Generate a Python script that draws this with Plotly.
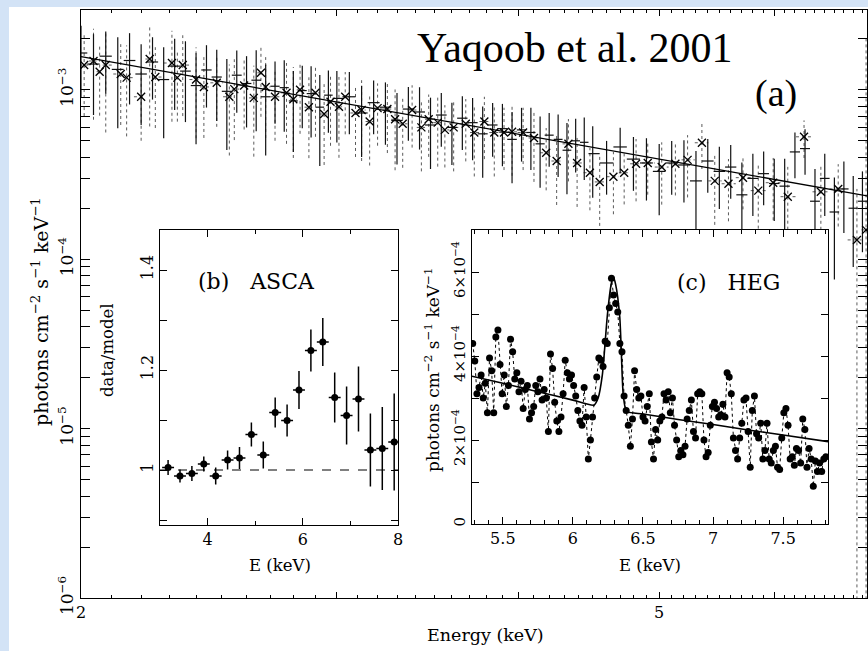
import numpy as np
import plotly.graph_objects as go

W, H = 868, 651

# ---------------- Panel (a): broad-band spectrum ----------------
heg_E = [2.00, 2.04, 2.08, 2.12, 2.16, 2.20, 2.24, 2.28, 2.32, 2.36, 2.40, 2.44, 2.48, 2.52, 2.56, 2.60,
         2.64, 2.68, 2.72, 2.76, 2.80, 2.84, 2.88, 2.92, 2.96, 3.00,
         3.06, 3.12, 3.18, 3.24, 3.30, 3.36, 3.42, 3.48, 3.54, 3.60, 3.66, 3.72, 3.78, 3.84, 3.90, 3.96,
         4.02, 4.08, 4.14, 4.20, 4.26, 4.32, 4.38, 4.44, 4.50,
         4.60, 4.70, 4.80, 4.90, 5.00, 5.10, 5.20, 5.30, 5.40, 5.50, 5.60, 5.70, 5.80, 5.90, 6.00, 6.10,
         6.20, 6.30, 6.40, 6.50, 6.60, 6.70, 6.80, 6.90]
heg_F = [16.5, 14.2, 15.8, 13.2, 14.9, 12.4, 14.6, 11.5, 13.8, 12.9, 10.6, 13.1, 11.9, 9.8, 12.2, 10.9,
         11.4, 9.1, 10.5, 10.3, 8.6, 9.9, 9.5, 7.9, 9.3, 8.9,
         9.1, 7.3, 8.4, 7.9, 6.6, 7.7, 7.4, 6.2, 7.1, 6.0, 6.8, 6.4, 5.5, 6.2, 5.9, 5.1,
         5.8, 5.6, 4.8, 5.4, 5.1, 4.4, 5.0, 4.9, 4.2,
         3.7, 4.6, 3.9, 3.7, 3.3, 3.7, 3.6, 2.9, 3.8, 3.3, 3.5, 2.4, 3.0, 3.2, 2.8, 2.7,
         4.3, 4.5, 2.2, 3.0, 1.9, 2.6, 2.0, 2.2]          # units of 1e-4
heg_err = [0.45, 0.50, 0.40, 0.55, 0.45, 0.50, 0.40, 0.55, 0.45, 0.50, 0.55, 0.40, 0.45, 0.55, 0.40, 0.45,
           0.50, 0.55, 0.40, 0.45, 0.50, 0.40, 0.45, 0.55, 0.40, 0.45,
           0.40, 0.45, 0.35, 0.40, 0.45, 0.35, 0.40, 0.45, 0.35, 0.40, 0.35, 0.40, 0.45, 0.35, 0.40, 0.45,
           0.35, 0.40, 0.45, 0.35, 0.40, 0.45, 0.35, 0.40, 0.45,
           0.35, 0.30, 0.35, 0.40, 0.45, 0.35, 0.40, 0.50, 0.35, 0.40, 0.35, 0.55, 0.40, 0.35, 0.40, 0.45,
           0.30, 0.30, 0.55, 0.40, 0.60, 0.45, 0.55, 0.50]

meg_E = [2.01, 2.04, 2.06, 2.08, 2.13, 2.15, 2.20, 2.23, 2.25, 2.31, 2.33, 2.35, 2.40, 2.43, 2.48, 2.53,
         2.55, 2.59, 2.63, 2.66, 2.68, 2.72, 2.77, 2.80,
         2.83, 2.87, 2.90, 2.94, 2.97, 3.01, 3.04, 3.09, 3.12, 3.16, 3.20, 3.25, 3.29, 3.33, 3.38, 3.43,
         3.47, 3.52, 3.56, 3.61, 3.68, 3.73, 3.79, 3.85, 3.91, 3.96, 4.03, 4.10, 4.18, 4.25, 4.33, 4.39,
         4.48, 4.55,
         4.65, 4.73, 4.82, 4.91, 5.02, 5.13, 5.23, 5.35, 5.46, 5.58, 5.71, 5.85, 5.99, 6.13, 6.29, 6.46,
         6.64, 6.84, 6.94]
meg_F = [14.0, 14.8, 12.8, 14.0, 12.4, 11.8, 9.1, 15.2, 11.9, 14.4, 11.8, 14.0, 11.5, 10.4, 11.0, 9.1,
         10.1, 10.6, 8.96, 12.6, 10.4, 9.1, 9.6, 8.8,
         10.0, 7.9, 9.6, 7.2, 8.5, 7.94, 9.1, 7.3, 7.6, 6.5, 7.8, 7.7, 6.7, 6.3, 7.6, 6.0,
         6.7, 6.4, 5.8, 6.0, 6.3, 5.6, 6.5, 5.6, 5.6, 5.65, 5.6, 5.2, 4.25, 3.8, 4.8, 3.7,
         3.24, 2.86,
         3.07, 3.24, 3.66, 3.7, 3.5, 3.66, 3.86, 4.87, 2.9, 2.79, 3.03, 2.54, 2.83, 2.34, 5.28, 2.5,
         2.6, 1.3, 1.49]                                    # units of 1e-4
meg_err = [0.50, 0.55, 0.45, 0.60, 0.50, 0.55, 0.45, 0.60, 0.50, 0.55, 0.45, 0.50, 0.55, 0.50, 0.45, 0.55,
           0.50, 0.45, 0.55, 0.45, 0.50, 0.45, 0.50, 0.55,
           0.45, 0.50, 0.45, 0.50, 0.45, 0.50, 0.40, 0.45, 0.50, 0.45, 0.40, 0.45, 0.50, 0.45, 0.40, 0.45,
           0.40, 0.45, 0.40, 0.45, 0.40, 0.45, 0.40, 0.45, 0.40, 0.45, 0.40, 0.45, 0.40, 0.45, 0.40, 0.45,
           0.40, 0.45,
           0.40, 0.35, 0.40, 0.35, 0.40, 0.35, 0.40, 0.30, 0.45, 0.40, 0.35, 0.45, 0.40, 0.50, 0.25, 0.45,
           0.40, 1.00, 13.0]

model_E = [2.0, 2.5, 3.0, 3.5, 4.0, 4.5, 5.0, 5.5, 6.0, 6.5, 7.0]
model_F = [15.7, 11.18, 8.48, 6.71, 5.47, 4.58, 3.90, 3.37, 2.96, 2.62, 2.34]   # units of 1e-4

# ---------------- Panel (b): ASCA data/model ----------------
asca_E = [3.17, 3.42, 3.67, 3.92, 4.17, 4.42, 4.67, 4.92, 5.17, 5.42,
          5.67, 5.92, 6.17, 6.42, 6.67, 6.92, 7.17, 7.42, 7.67, 7.92]
asca_R = [1.005, 0.988, 0.993, 1.012, 0.988, 1.020, 1.024, 1.071, 1.030, 1.115,
          1.099, 1.160, 1.239, 1.256, 1.145, 1.109, 1.142, 1.040, 1.043, 1.056]
asca_err = [0.015, 0.013, 0.015, 0.015, 0.017, 0.019, 0.022, 0.024, 0.027, 0.030,
            0.032, 0.038, 0.042, 0.048, 0.050, 0.058, 0.065, 0.073, 0.083, 0.097]
asca_dE = [0.125] * 20

# ---------------- Panel (c): HEG Fe K region ----------------
hegc_E = [5.285, 5.300, 5.315, 5.330, 5.345, 5.360, 5.375, 5.390, 5.405, 5.420,
          5.435, 5.450, 5.465, 5.480, 5.495, 5.510, 5.525, 5.540, 5.555, 5.570,
          5.585, 5.600, 5.615, 5.630, 5.645, 5.660, 5.675, 5.690, 5.705, 5.720,
          5.735, 5.750, 5.765, 5.780, 5.795, 5.810, 5.825, 5.840, 5.855, 5.870,
          5.885, 5.900, 5.915, 5.930, 5.945, 5.960, 5.975, 5.990, 6.005, 6.020,
          6.035, 6.050, 6.065, 6.080, 6.095, 6.110, 6.125, 6.140, 6.155, 6.170,
          6.185, 6.200, 6.215, 6.230, 6.245, 6.260, 6.275, 6.290, 6.305, 6.320,
          6.335, 6.350, 6.365, 6.380, 6.395, 6.410, 6.425, 6.440, 6.455, 6.470,
          6.485, 6.500, 6.515, 6.530, 6.545, 6.560, 6.575, 6.590, 6.605, 6.620,
          6.635, 6.650, 6.665, 6.680, 6.695, 6.710, 6.725, 6.740, 6.755, 6.770,
          6.785, 6.800, 6.815, 6.830, 6.845, 6.860, 6.875, 6.890, 6.905, 6.920,
          6.935, 6.950, 6.965, 6.980, 6.995, 7.010, 7.025, 7.040, 7.055, 7.070,
          7.085, 7.100, 7.115, 7.130, 7.145, 7.160, 7.175, 7.190, 7.205, 7.220,
          7.235, 7.250, 7.265, 7.280, 7.295, 7.310, 7.325, 7.340, 7.355, 7.370,
          7.385, 7.400, 7.415, 7.430, 7.445, 7.460, 7.475, 7.490, 7.505, 7.520,
          7.535, 7.550, 7.565, 7.580, 7.595, 7.610, 7.625, 7.640, 7.655, 7.670,
          7.685, 7.700, 7.715, 7.730, 7.745, 7.760, 7.775, 7.790, 7.805]
hegc_F = [4.30, 3.88, 3.10, 3.25, 3.55, 3.00, 3.35, 2.65, 3.95, 3.65,
          2.65, 4.45, 4.62, 3.80, 3.10, 3.55, 2.80, 3.30, 4.40, 4.10,
          3.45, 3.60, 3.15, 3.40, 2.75, 3.20, 3.30, 2.50, 2.65, 2.80,
          3.30, 3.15, 3.45, 2.95, 3.20, 3.00, 2.20, 4.05, 3.70, 2.90,
          2.45, 2.20, 2.55, 3.10, 3.90, 3.60, 3.45, 3.55, 3.30, 3.05,
          2.70, 2.45, 2.35, 3.25, 2.55, 1.55, 2.00, 2.55, 3.00, 3.50,
          3.95, 3.90, 3.75, 4.35, 4.30, 5.15, 5.85, 5.45, 5.25, 5.05,
          4.30, 4.10, 3.05, 2.70, 2.35, 1.85, 2.50, 3.65, 3.20, 3.00,
          3.05, 2.55, 2.45, 2.80, 3.10, 1.95, 1.55, 2.25, 2.00, 2.45,
          2.55, 3.10, 2.95, 3.15, 2.65, 3.00, 2.35, 2.00, 1.60, 1.75,
          1.65, 1.85, 2.50, 2.70, 2.95, 2.20, 2.05, 3.10, 3.15, 3.10,
          2.00, 1.60, 1.70, 2.35, 2.80, 2.90, 2.75, 2.55, 2.60, 2.85,
          2.55, 3.60, 3.50, 3.10, 2.05, 1.75, 1.55, 2.05, 2.40, 2.95,
          3.00, 2.20, 1.35, 2.70, 3.05, 2.15, 2.05, 2.40, 1.55, 1.75,
          2.40, 1.55, 1.45, 1.75, 1.85, 1.35, 1.30, 2.05, 2.65, 2.75,
          2.35, 1.55, 1.60, 1.40, 1.80, 1.75, 1.45, 2.50, 2.25, 1.35,
          1.80, 1.55, 0.90, 1.50, 1.25, 1.45, 1.25, 1.55, 1.60]   # units of 1e-4
modc_E = [5.28, 5.50, 5.75, 6.00, 6.15, 6.18, 6.21, 6.245, 6.27, 6.287, 6.305, 6.334, 6.358,
          6.375, 6.39, 6.50, 6.75, 7.00, 7.25, 7.50, 7.82]
modc_F = [3.52, 3.35, 3.15, 2.95, 2.83, 3.00, 3.55, 4.94, 5.65, 5.89, 5.70, 4.94, 3.12,
          2.75, 2.67, 2.62, 2.49, 2.37, 2.24, 2.12, 1.96]      # units of 1e-4

SCALE = 1e-4
FLOOR = 1e-7


def half_widths(E):
    e = np.asarray(E, float)
    d = np.diff(e)
    left = np.concatenate([[d[0]], d]) / 2.0
    right = np.concatenate([d, [d[-1]]]) / 2.0
    return left, right


def error_segments(E, F, err):
    e = np.asarray(E, float)
    f = np.asarray(F, float) * SCALE
    r = np.asarray(err, float)
    lo = np.maximum(f * (1 - r), FLOOR)
    hi = f * (1 + r)
    dl, dr = half_widths(E)
    xs, ys = [], []
    for i in range(len(e)):
        xs += [e[i], e[i], None, e[i] - dl[i], e[i] + dr[i], None]
        ys += [lo[i], hi[i], None, f[i], f[i], None]
    return xs, ys


fig = go.Figure()

# (a) MEG dotted error bars + x markers
mx, my = error_segments(meg_E, meg_F, meg_err)
fig.add_trace(go.Scatter(x=mx, y=my, mode="lines", line=dict(color="#5a5a5a", width=1, dash="dot"),
                         xaxis="x", yaxis="y", hoverinfo="skip"))
# (a) HEG solid crosses
hx, hy = error_segments(heg_E, heg_F, heg_err)
fig.add_trace(go.Scatter(x=hx, y=hy, mode="lines", line=dict(color="#111111", width=1.2),
                         xaxis="x", yaxis="y", hoverinfo="skip"))
fig.add_trace(go.Scatter(x=meg_E, y=[v * SCALE for v in meg_F], mode="markers",
                         marker=dict(symbol="x-thin", size=8, line=dict(color="black", width=1.3)),
                         xaxis="x", yaxis="y"))
# (a) model
fig.add_trace(go.Scatter(x=model_E, y=[v * SCALE for v in model_F], mode="lines",
                         line=dict(color="black", width=1.3), xaxis="x", yaxis="y"))
# invisible carrier for the overlay tick axis
fig.add_trace(go.Scatter(x=[model_E[0]], y=[model_F[0] * SCALE], mode="markers",
                         marker=dict(size=1, opacity=0), xaxis="x4", yaxis="y", hoverinfo="skip"))

# (b) ASCA ratio
fig.add_trace(go.Scatter(x=[3, 8], y=[1, 1], mode="lines", line=dict(color="black", width=1, dash="dash"),
                         xaxis="x2", yaxis="y2"))
fig.add_trace(go.Scatter(x=asca_E, y=asca_R, mode="markers",
                         marker=dict(symbol="circle", size=7, color="black"),
                         error_y=dict(type="data", array=asca_err, color="black", thickness=1.5, width=0),
                         error_x=dict(type="data", array=asca_dE, color="black", thickness=1.5, width=0),
                         xaxis="x2", yaxis="y2"))

# (c) HEG Fe K
fig.add_trace(go.Scatter(x=hegc_E, y=[v * SCALE for v in hegc_F], mode="lines+markers",
                         line=dict(color="black", width=1, dash="dot"),
                         marker=dict(symbol="circle", size=7, color="black"),
                         xaxis="x3", yaxis="y3"))
fig.add_trace(go.Scatter(x=modc_E, y=[v * SCALE for v in modc_F], mode="lines",
                         line=dict(color="black", width=1.6, shape="spline", smoothing=0.6),
                         xaxis="x3", yaxis="y3"))

SERIF = "DejaVu Serif"
base = dict(showline=True, linecolor="black", linewidth=1, mirror="allticks", ticks="inside",
            tickcolor="black", tickwidth=1, showgrid=False, zeroline=False, automargin=False)

sup = lambda b, e: f"{b}<sup>\u2212{e}</sup>"

x_minor = [round(2 + 0.1 * k, 1) for k in range(1, 50) if k % 10 != 0]
y_minor = [m * 10.0 ** p for p in range(-6, -2) for m in range(2, 10) if m * 10.0 ** p < 2.96e-3]


def px_x(p):
    return p / W


def px_y(p):
    return 1 - p / H


XR = [np.log10(2), np.log10(6.95)]
fig.update_layout(
    width=W, height=H, autosize=False, margin=dict(l=0, r=0, t=0, b=0, pad=0),
    paper_bgcolor="white", plot_bgcolor="white", showlegend=False,
    xaxis=dict(base, type="log", range=XR, domain=[px_x(81), px_x(867)],
               anchor="y", tickmode="array", tickvals=[2, 5], ticktext=["2", "5"],
               ticklen=6, tickfont=dict(family=SERIF, size=16, color="black"),
               minor=dict(tickmode="array", tickvals=x_minor, ticklen=3, ticks="inside", tickcolor="black")),
    xaxis4=dict(type="log", range=XR, overlaying="x", anchor="y", side="bottom",
                tickmode="array", tickvals=[3, 4, 6], showticklabels=False, ticks="inside",
                ticklen=6, tickcolor="black", mirror="ticks", showline=False, showgrid=False,
                zeroline=False),
    yaxis=dict(base, type="log", range=[-6, np.log10(2.96e-3)], domain=[px_y(598), px_y(10)],
               anchor="x", tickmode="array", tickvals=[1e-6, 1e-5, 1e-4, 1e-3],
               ticktext=[sup(10, 6), sup(10, 5), sup(10, 4), sup(10, 3)], tickangle=-90,
               ticklen=9, tickfont=dict(family=SERIF, size=17, color="black"),
               minor=dict(tickmode="array", tickvals=y_minor, ticklen=5, ticks="inside", tickcolor="black")),
    xaxis2=dict(base, range=[3, 8], domain=[px_x(160), px_x(398)], anchor="y2",
                tickmode="array", tickvals=[4, 6, 8], ticktext=["4", "6", "8"], ticklen=7,
                tickfont=dict(family=SERIF, size=16, color="black"),
                minor=dict(tickmode="array", tickvals=[3, 5, 7], ticklen=4, ticks="inside", tickcolor="black")),
    yaxis2=dict(base, range=[0.89, 1.48], domain=[px_y(525), px_y(230)], anchor="x2",
                tickmode="array", tickvals=[1.0, 1.2, 1.4], ticktext=["1", "1.2", "1.4"], tickangle=-90,
                ticklen=7, tickfont=dict(family=SERIF, size=16, color="black"),
                minor=dict(tickmode="array", tickvals=[0.9, 1.1, 1.3], ticklen=7, ticks="inside",
                           tickcolor="black")),
    xaxis3=dict(base, range=[5.28, 7.82], domain=[px_x(472), px_x(828)], anchor="y3",
                tickmode="array", tickvals=[5.5, 6, 6.5, 7, 7.5], ticktext=["5.5", "6", "6.5", "7", "7.5"],
                ticklen=7, tickfont=dict(family=SERIF, size=16, color="black"),
                minor=dict(tickmode="linear", tick0=5.0, dtick=0.1, ticklen=4, ticks="inside",
                           tickcolor="black")),
    yaxis3=dict(base, range=[0, 7.0e-4], domain=[px_y(524), px_y(230)], anchor="x3",
                tickmode="array", tickvals=[0, 2e-4, 4e-4, 6e-4],
                ticktext=["0", "2\u00d7" + sup(10, 4), "4\u00d7" + sup(10, 4), "6\u00d7" + sup(10, 4)],
                tickangle=-90, ticklen=7, tickfont=dict(family=SERIF, size=15, color="black"),
                minor=dict(tickmode="linear", tick0=0, dtick=1e-4, ticklen=7, ticks="inside",
                           tickcolor="black")),
)

# light-blue page edge
fig.add_shape(type="rect", xref="paper", yref="paper", x0=0, x1=px_x(9), y0=0, y1=1,
              fillcolor="#d3e3f6", line=dict(width=0), layer="below")
fig.add_shape(type="rect", xref="paper", yref="paper", x0=0, x1=1, y0=px_y(7), y1=1,
              fillcolor="#d3e3f6", line=dict(width=0), layer="below")


def ann(text, x, y, size, family=SERIF, angle=0):
    fig.add_annotation(text=text, x=px_x(x), y=px_y(y), xref="paper", yref="paper",
                       showarrow=False, textangle=angle, xanchor="center", yanchor="middle",
                       font=dict(family=family, size=size, color="black"))


ylab = "photons cm<sup>\u22122</sup> s<sup>\u22121</sup> keV<sup>\u22121</sup>"
ann("Yaqoob et al. 2001", 574, 48, 42, family="Liberation Serif")
ann("(a)", 776, 94, 38, family="Liberation Serif")
ann("(b)\u00a0\u00a0\u00a0ASCA", 256, 281, 22)
ann("(c)\u00a0\u00a0\u00a0HEG", 728, 283, 22)
ann("Energy (keV)", 485, 635, 17.5)
ann("E (keV)", 280, 565, 16.5)
ann("E (keV)", 650, 565, 16.5)
ann("data/model", 107, 350, 16.5, angle=-90)
ann(ylab, 40, 312, 19, angle=-90)
ann(ylab, 432, 370, 17, angle=-90)

post = ("document.documentElement.style.margin='0';document.body.style.margin='0';"
        "document.documentElement.style.overflow='hidden';document.body.style.overflow='hidden';"
        "var gd=document.getElementById('{plot_id}');"
        "Plotly.relayout(gd,{width:%d,height:%d});" % (W, H))
fig.write_html("out.html", config={"responsive": False}, post_script=post)
